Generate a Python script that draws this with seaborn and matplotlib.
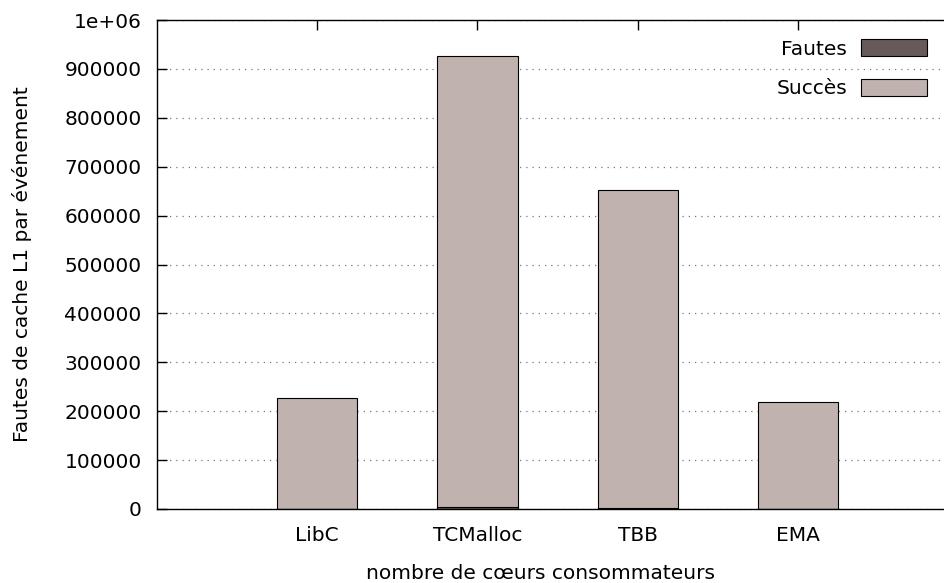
import matplotlib
matplotlib.use("Agg")
import matplotlib.pyplot as plt
import seaborn as sns
import pandas as pd
from matplotlib.ticker import FuncFormatter, MultipleLocator

allocateurs = ["LibC", "TCMalloc", "TBB", "EMA"]
fautes = [500, 4000, 2000, 500]
succes = [227000, 922000, 650000, 219000]

sns.set_style("white")
plt.rcParams["font.family"] = ["DejaVu Sans"]
plt.rcParams["font.size"] = 14.5
for k in ["text.color", "axes.labelcolor", "xtick.color", "ytick.color"]:
    plt.rcParams[k] = "black"

df = pd.DataFrame({"alloc": allocateurs, "fautes": fautes, "succes": succes})
df["total"] = df["fautes"] + df["succes"]

fig = plt.figure(figsize=(9.45, 5.83), dpi=100)
ax = fig.add_axes([157 / 945, 74 / 583, 790 / 945, 489 / 583])

sns.barplot(data=df, x="alloc", y="total", color="#c0b2af", width=0.5,
            edgecolor="black", linewidth=0.8, saturation=1, ax=ax, label="Succès")
sns.barplot(data=df, x="alloc", y="fautes", color="#695a5a", width=0.5,
            edgecolor="black", linewidth=0.8, saturation=1, ax=ax, label="Fautes")

ax.set_xlim(-1, 3.93)
ax.set_ylim(0, 1e6)
ax.yaxis.set_major_locator(MultipleLocator(100000))
ax.yaxis.set_major_formatter(FuncFormatter(lambda v, p: "1e+06" if v >= 1e6 else f"{int(v)}"))
ax.grid(axis="y", linestyle=(0, (1, 4)), color="#777777", linewidth=0.9)
ax.set_axisbelow(True)

for s in ["left", "top", "bottom"]:
    ax.spines[s].set_visible(True)
    ax.spines[s].set_color("black")
    ax.spines[s].set_linewidth(1)
ax.spines["right"].set_visible(False)

ax.tick_params(axis="both", direction="in", length=7, width=1, colors="black",
               labelsize=14.5, top=True, left=True, bottom=True, right=False)
ax.tick_params(axis="x", pad=12)
ax.tick_params(axis="y", pad=11)

ax.set_xlabel("nombre de cœurs consommateurs", fontsize=14.5)
ax.set_ylabel("Fautes de cache L1 par événement", fontsize=14.5)
ax.xaxis.set_label_coords(0.485, -0.112)
ax.yaxis.set_label_coords(-0.158, 0.5)

h, l = ax.get_legend_handles_labels()
order = [l.index("Fautes"), l.index("Succès")]
ax.legend([h[i] for i in order], [l[i] for i in order], loc="upper right",
          bbox_to_anchor=(0.997, 0.998), frameon=False, markerfirst=False,
          handlelength=3.25, handleheight=0.95, handletextpad=0.7,
          fontsize=14.5, labelspacing=1.0, borderpad=0.4)

fig.savefig("out.png", dpi=100)
